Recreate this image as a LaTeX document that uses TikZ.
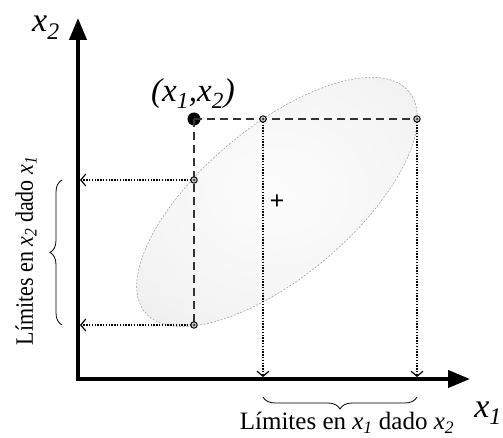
\documentclass[tikz,border=0pt]{standalone}
\usepackage{fontspec}
\setmainfont{Liberation Serif}
\usetikzlibrary{arrows.meta, decorations.pathreplacing, shapes.geometric}
\pgfdeclareradialshading{softgrey}{\pgfpoint{0bp}{0bp}}{color(0bp)=(black!1); color(22bp)=(black!4); color(50bp)=(black!10)}
\tikzset{
  axis/.style={line width=4pt, -{Triangle[length=22pt, width=17pt]}},
  guide/.style={draw=black!80, line width=1.3pt, dash pattern=on 8pt off 5pt},
  proj/.style={line width=1.2pt, dash pattern=on 1.4pt off 1.4pt, -{Straight Barb[length=5pt, width=12pt]}},
  ring/.style={circle, draw, line width=0.9pt, fill=gray!50, inner sep=0pt, minimum size=6.5pt},
  limbrace/.style={decorate, decoration={brace, amplitude=12pt}, line width=0.8pt},
  axlabel/.style={font=\fontsize{34}{34}\selectfont\itshape, inner sep=0pt},
  note/.style={font=\fontsize{25}{25}\selectfont, inner sep=0pt},
}
\newcommand{\xs}[1]{\textit{x}\textsubscript{\textit{#1}}}

\begin{document}
\begin{tikzpicture}[x=1pt, y=1pt]
  \useasboundingbox (0,0) rectangle (503,437);
  % region of the joint distribution
  \node[ellipse, rotate=40, minimum width=344pt, minimum height=150pt, inner sep=0pt,
        shading=softgrey, draw=gray!80, line width=0.5pt,
        dash pattern=on 2pt off 1.5pt] (region) at (277,235) {};
  \node[font=\fontsize{26}{26}\selectfont\bfseries, inner sep=0pt] (mu) at (277,235) {+};

  % axes
  \coordinate (O) at (76,58);
  \coordinate (ytip) at (78,419);
  \coordinate (xtip) at (470,58);
  \draw[axis] (78,56) -- (ytip);
  \draw[axis] (O) -- (xtip);
  \node[axlabel, anchor=base west] (xtwo) at (32,405) {x\textsubscript{2}};
  \node[axlabel, anchor=base east] (xone) at (502,20) {x\textsubscript{\textit{1}}};

  % point and its limits
  \coordinate (A) at (263,318);
  \coordinate (B) at (417,318);
  \coordinate (C) at (194,257);
  \coordinate (D) at (194,112);
  \coordinate (Ax) at (263,60);
  \coordinate (Bx) at (417,60);
  \coordinate (Cy) at (80,257);
  \coordinate (Dy) at (80,112);
  \node[circle, fill, inner sep=0pt, minimum width=13pt, minimum height=12pt] (P) at (194,318) {};
  \node[axlabel, font=\fontsize{33}{33}\selectfont\itshape] (plabel) at (193,343) {(x\textsubscript{\textit{1}},x\textsubscript{2})};

  \draw[guide] (P.center) -- (B);
  \draw[guide] (P.center) -- (D);
  \draw[proj] (A) -- (Ax);
  \draw[proj] (B) -- (Bx);
  \draw[proj] (C) -- (Cy);
  \draw[proj] (D) -- (Dy);
  \foreach \p in {A,B,C,D}
    \node[ring] (\p ring) at (\p) {};
  \foreach \p in {A,B,C,D}
    \fill (\p) circle (1pt);

  % braces and their notes
  \coordinate (lbot) at (62,112);
  \coordinate (ltop) at (62,257);
  \coordinate (bright) at (417,40);
  \coordinate (bleft) at (263,40);
  \draw[limbrace] (lbot) -- (ltop);
  \draw[limbrace] (bright) -- (bleft);
  \node[note, rotate=90, xscale=0.88] (ynote) at (26,186) {Límites en \xs{2} dado \xs{1}};
  \node[note] (xnote) at (347,14) {Límites en \xs{1} dado \xs{2}};
\end{tikzpicture}
\end{document}
